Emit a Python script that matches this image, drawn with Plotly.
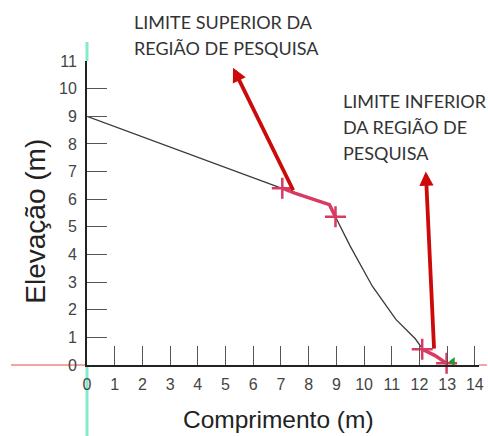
import plotly.graph_objects as go

# ---- data ----
profile_x = [0, 7.05, 7.5, 8.75, 9.0, 9.5, 10.3, 11.15, 11.85, 12.1, 12.55, 12.98]
profile_y = [9.0, 6.4, 6.22, 5.8, 5.3, 4.3, 2.85, 1.65, 0.95, 0.6, 0.35, 0.06]

upper_x = [7.05, 7.5, 8.75, 8.97]
upper_y = [6.4, 6.22, 5.8, 5.36]
lower_x = [12.1, 12.55, 12.98]
lower_y = [0.57, 0.35, 0.06]

cross_x = [7.05, 8.97, 12.1, 12.98]
cross_y = [6.4, 5.36, 0.57, 0.06]

start_x = [-0.15]
start_y = [9.0]
end_x = [13.2]
end_y = [0.12]

# arrows: tail -> head
arrow_tail_x = [7.47, 12.53]
arrow_tail_y = [6.27, 0.54]
arrow_head_x = [5.27, 12.23]
arrow_head_y = [10.76, 7.0]

label_upper = ["LIMITE SUPERIOR DA", "REGIÃO DE PESQUISA"]
label_lower = ["LIMITE INFERIOR", "DA REGIÃO DE", "PESQUISA"]

x_ticks = list(range(0, 15))
y_ticks = list(range(0, 12))
x_range = [0, 14.15]
y_range = [0, 11]
x_title = "Comprimento (m)"
y_title = "Elevação (m)"

# ---- layout geometry (body margin removed by post_script) ----
W, H = 488, 436
L, R, T, B = 87, 4, 61, 71
pw, ph = W - L - R, H - T - B


def px_x(p):
    return (p - L) / pw


def px_y(p):
    return (H - B - p) / ph


fig = go.Figure()

# guide lines (cyan vertical, pink horizontal) outside the axes
GUIDE_CYAN = "#86e8cc"
GUIDE_PINK = "#f5a3a3"
fig.add_shape(type="line", xref="paper", yref="paper", x0=0, x1=0, y0=px_y(440), y1=0,
              line=dict(color=GUIDE_CYAN, width=3), layer="below")
fig.add_shape(type="line", xref="paper", yref="paper", x0=0, x1=0, y0=1, y1=px_y(42),
              line=dict(color=GUIDE_CYAN, width=3), layer="below")
fig.add_shape(type="line", xref="paper", yref="paper", x0=px_x(10), x1=0, y0=0, y1=0,
              line=dict(color=GUIDE_PINK, width=2), layer="below")
fig.add_shape(type="line", xref="paper", yref="paper", x0=1, x1=px_x(492), y0=0, y1=0,
              line=dict(color=GUIDE_PINK, width=2), layer="below")

fig.add_trace(go.Scatter(x=profile_x, y=profile_y, mode="lines",
                         line=dict(color="#3a3a3a", width=1.3), cliponaxis=False))
fig.add_trace(go.Scatter(x=upper_x, y=upper_y, mode="lines",
                         line=dict(color="#d83a62", width=3.5), cliponaxis=False))
fig.add_trace(go.Scatter(x=lower_x, y=lower_y, mode="lines",
                         line=dict(color="#d83a62", width=3.5), cliponaxis=False))
fig.add_trace(go.Scatter(x=cross_x, y=cross_y, mode="markers",
                         marker=dict(symbol="cross-thin", size=15,
                                     line=dict(color="#d83a62", width=2.5)),
                         cliponaxis=False))
fig.add_trace(go.Scatter(x=start_x, y=start_y, mode="markers",
                         marker=dict(symbol="triangle-right", size=9, color="#1f9a2a"),
                         cliponaxis=False))
fig.add_trace(go.Scatter(x=end_x, y=end_y, mode="markers",
                         marker=dict(symbol="triangle-left", size=8, color="#1f9a2a"),
                         cliponaxis=False))

annotations = []
for tx, ty, hx, hy in zip(arrow_tail_x, arrow_tail_y, arrow_head_x, arrow_head_y):
    annotations.append(dict(x=hx, y=hy, ax=tx, ay=ty, xref="x", yref="y",
                            axref="x", ayref="y", text="", showarrow=True,
                            arrowhead=2, arrowsize=0.75, arrowwidth=3.8,
                            arrowcolor="#cc0a0a"))

lab_font = dict(family="Lato", size=18, color="#333333")
for i, t in enumerate(label_upper):
    annotations.append(dict(x=px_x(133), y=px_y(22 + 26 * i), xref="paper", yref="paper",
                            text=t, showarrow=False, xanchor="left", yanchor="middle",
                            font=lab_font))
for i, t in enumerate(label_lower):
    annotations.append(dict(x=px_x(344), y=px_y(101 + 26 * i), xref="paper", yref="paper",
                            text=t, showarrow=False, xanchor="left", yanchor="middle",
                            font=lab_font))

annotations.append(dict(x=px_x(281), y=px_y(419), xref="paper", yref="paper",
                        text=x_title, showarrow=False, xanchor="center", yanchor="middle",
                        font=dict(family="Liberation Sans, Arial", size=24.5, color="#222")))
annotations.append(dict(x=px_x(34), y=px_y(221), xref="paper", yref="paper",
                        text=y_title, showarrow=False, xanchor="center", yanchor="middle",
                        textangle=-90,
                        font=dict(family="Liberation Sans, Arial", size=28, color="#222")))

fig.update_layout(
    width=W, height=H,
    margin=dict(l=L, r=R, t=T, b=B, pad=0),
    paper_bgcolor="white", plot_bgcolor="white",
    showlegend=False,
    annotations=annotations,
    font=dict(family="Liberation Sans, Arial", size=16, color="#444"),
)
fig.update_xaxes(range=x_range, tickvals=x_ticks, ticktext=[str(v) for v in x_ticks],
                 showgrid=False, zeroline=False, showline=True, linecolor="#222",
                 linewidth=2, ticks="inside", ticklen=19, tickwidth=1, tickcolor="#555",
                 ticklabelstandoff=4, ticklabeloverflow="allow",
                 tickfont=dict(size=16, color="#444"))
fig.update_yaxes(range=y_range, tickvals=y_ticks, ticktext=[str(v) for v in y_ticks],
                 showgrid=False, zeroline=False, showline=True, linecolor="#222",
                 linewidth=2, ticks="inside", ticklen=20, tickwidth=1, tickcolor="#555",
                 ticklabelstandoff=5, ticklabeloverflow="allow",
                 tickfont=dict(size=16, color="#444"))

fig.write_html(
    "out.html",
    config={"displayModeBar": False},
    post_script="document.body.style.margin='0';document.body.style.overflow='hidden';",
)
